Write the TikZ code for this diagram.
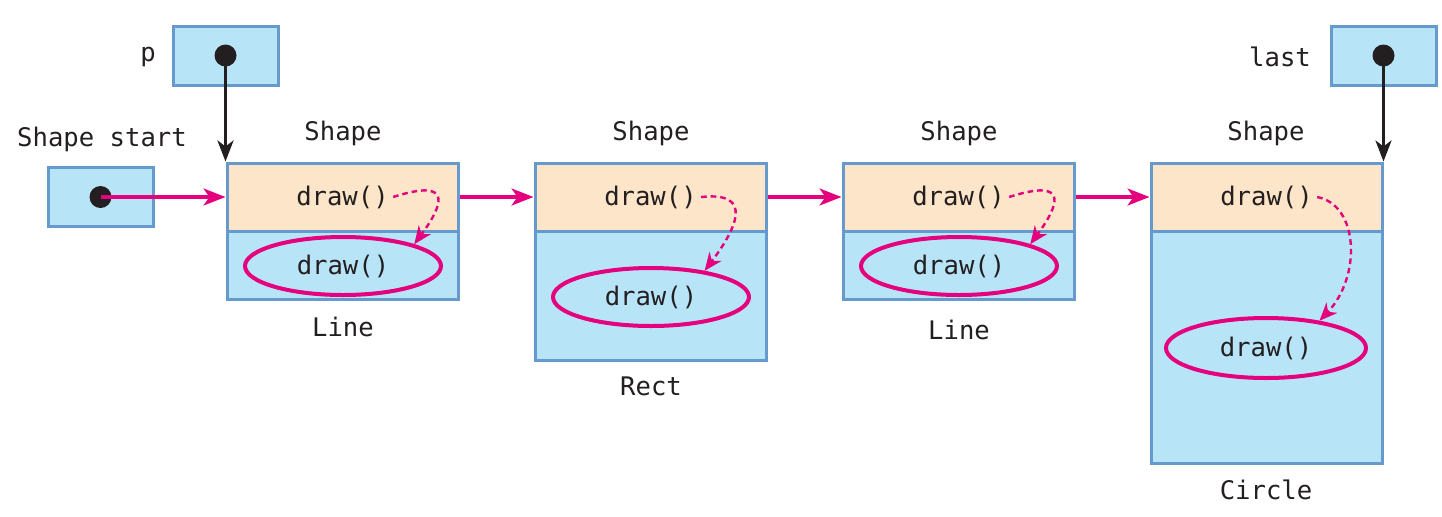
\documentclass[tikz,border=0pt]{standalone}
\usepackage{fontspec}
\setmonofont{DejaVu Sans Mono}
\usetikzlibrary{arrows.meta,shapes.geometric}
\definecolor{cellblue}{HTML}{B8E4F8}
\definecolor{cellborder}{HTML}{6699CC}
\definecolor{peach}{HTML}{FDE5C9}
\definecolor{pink}{HTML}{E5007D}
\definecolor{ink}{HTML}{231F20}
\tikzset{
  every node/.style={font=\ttfamily\fontsize{12.8pt}{15pt}\selectfont, text=ink},
  cell/.style={draw=cellborder, line width=1.5pt, inner sep=0pt, minimum width=115.5pt},
  topcell/.style={cell, fill=peach, minimum height=34pt},
  botcell/.style={cell, fill=cellblue},
  ptrbox/.style={draw=cellborder, line width=1.5pt, fill=cellblue, minimum width=52.5pt, minimum height=29.5pt, inner sep=0pt},
  ptrdot/.style={circle, fill=ink, minimum size=11pt, inner sep=0pt},
  meth/.style={ellipse, draw=pink, line width=2pt, minimum width=98pt, minimum height=29pt, inner sep=0pt},
  plain/.style={inner sep=0pt},
  link/.style={draw=pink, line width=1.6pt, -{Stealth[length=11pt,width=8.5pt,inset=3pt]}},
  ptr/.style={draw=ink, line width=1.6pt, -{Stealth[length=10.5pt,width=8pt,inset=3pt]}},
  virt/.style={draw=pink, line width=1.2pt, dash pattern=on 2.8pt off 2pt, -{Stealth[length=9pt,width=7.5pt,inset=2.8pt]}}
}
\begin{document}
\begin{tikzpicture}[x=0.5pt,y=-0.5pt]
\useasboundingbox (0,0) rectangle (1442,516);
% object 1 (Line)
\node[botcell, minimum height=34pt] (b1) at (342.5,265) {};
\node[topcell] (t1) at (342.5,197) {};
\node[plain] (d1) at (t1.center) {draw()};
\node[meth] (e1) at (343,266) {draw()};
\node[plain] (s1) at (343,133) {Shape};
\node[plain] (n1) at (343,327) {Line};
% object 2 (Rect)
\node[botcell, minimum height=64.5pt] (b2) at (650.5,295.5) {};
\node[topcell] (t2) at (650.5,197) {};
\node[plain] (d2) at (t2.center) {draw()};
\node[meth] (e2) at (651,297) {draw()};
\node[plain] (s2) at (651,133) {Shape};
\node[plain] (n2) at (651,386) {Rect};
% object 3 (Line)
\node[botcell, minimum height=34pt] (b3) at (958.5,265) {};
\node[topcell] (t3) at (958.5,197) {};
\node[plain] (d3) at (t3.center) {draw()};
\node[meth] (e3) at (959,266) {draw()};
\node[plain] (s3) at (959,133) {Shape};
\node[plain] (n3) at (959,330) {Line};
% object 4 (Circle)
\node[botcell, minimum height=116pt] (b4) at (1266.5,347) {};
\node[topcell] (t4) at (1266.5,197) {};
\node[plain] (d4) at (t4.center) {draw()};
\node[meth, minimum width=100pt, minimum height=30pt] (e4) at (1266,348) {draw()};
\node[plain] (s4) at (1266,133) {Shape};
\node[plain] (n4) at (1266,490) {Circle};
% pointer boxes
\node[ptrbox] (p) at (t1.north west |- 0,55.5) {};
\node[ptrdot] (pd) at (p.center) {};
\node[plain] (plab) at (148,57) {p};
\node[ptrbox] (last) at (t4.north east |- 0,55.5) {};
\node[ptrdot] (lastd) at (last.center) {};
\node[plain] (lastlab) at (1280,57) {last};
\node[ptrbox] (start) at (100.5,197) {};
\node[ptrdot] (startd) at (start.center) {};
\node[plain] (startlab) at (102,139) {Shape start};
% list links
\draw[link] (startd.center) -- (t1.west);
\draw[link] (t1.east) -- (t2.west);
\draw[link] (t2.east) -- (t3.west);
\draw[link] (t3.east) -- (t4.west);
% pointers
\draw[ptr] (pd.center) -- (t1.north west);
\draw[ptr] (lastd.center) -- (t4.north east);
% virtual dispatch
\draw[virt] ([xshift=2pt]d1.east) .. controls +(62,-20) and +(28,-38) .. (e1.17);
\draw[virt] ([xshift=2pt]d2.east) .. controls +(55,-6) and +(30,-40) .. (e2.26);
\draw[virt] ([xshift=2pt]d3.east) .. controls +(62,-20) and +(28,-38) .. (e3.17);
\draw[virt] ([xshift=2pt]d4.east) .. controls +(42,8) and +(42,-44) .. (e4.27);
\end{tikzpicture}
\end{document}
